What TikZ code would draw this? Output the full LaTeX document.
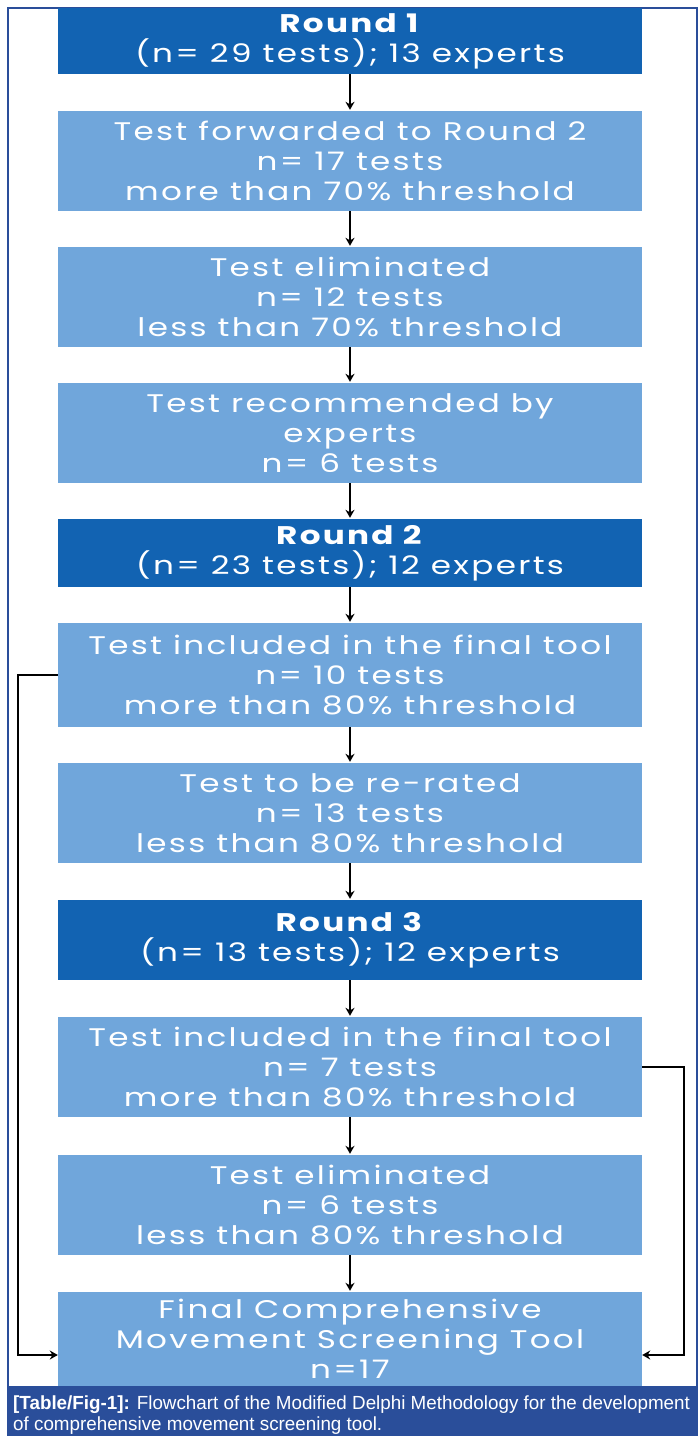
\documentclass[tikz,border=0pt]{standalone}
\usepackage{fontspec}
\setmainfont{Poppins}
\newfontfamily\boxfont[LetterSpace=9,FakeStretch=1.28]{Poppins}
\newfontfamily\capfont[FakeStretch=0.99]{Liberation Sans}
\usetikzlibrary{arrows.meta}

\definecolor{rounddark}{RGB}{18,99,178}
\definecolor{boxlight}{RGB}{112,166,219}
\definecolor{capblue}{RGB}{42,78,154}

\tikzset{
  flowbox/.style={fill=boxlight,text=white,minimum width=584pt,minimum height=#1,
    inner sep=0pt,align=center,font=\boxfont\fontsize{25.5}{30}\selectfont},
  roundbox/.style={flowbox=#1,fill=rounddark},
  flowarrow/.style={draw=black,line width=2.2pt,-{Stealth[length=8pt,width=9pt]},shorten >=1pt},
  sidearrow/.style={draw=black,line width=2.2pt,-{Stealth[length=8pt,width=9pt]}}
}

\begin{document}
\begin{tikzpicture}[x=1pt,y=1pt,yscale=-1,xscale=1]
\useasboundingbox (0,0) rectangle (700,1436);

%Frame and caption band
\draw [capblue,line width=1.2pt] (8,1436) -- (8,8) -- (697,8) -- (697,1436) ;
\fill [capblue] (8,1386) rectangle (697,1436) ;

%Round 1
\node [roundbox=66pt] (r1) at (350,41) {\textbf{Round 1}\\(n= 29 tests); 13 experts};
\node [flowbox=100pt] (fwd) at (350,161) {Test forwarded to Round 2\\n= 17 tests\\more than 70\% threshold};
\node [flowbox=100pt] (elim1) at (350,297) {Test eliminated\\n= 12 tests\\less than 70\% threshold};
\node [flowbox=100pt] (recom) at (350,433) {Test recommended by\\experts\\n= 6 tests};

%Round 2
\node [roundbox=68pt] (r2) at (350,553) {\textbf{Round 2}\\(n= 23 tests); 12 experts};
\node [flowbox=104pt] (incl1) at (350,675) {Test included in the final tool\\n= 10 tests\\more than 80\% threshold};
\node [flowbox=100pt] (rerate) at (350,813) {Test to be re-rated\\n= 13 tests\\less than 80\% threshold};

%Round 3
\node [roundbox=80pt] (r3) at (350,940) {\textbf{Round 3}\\(n= 13 tests); 12 experts};
\node [flowbox=100pt] (incl2) at (350,1067) {Test included in the final tool\\n= 7 tests\\more than 80\% threshold};
\node [flowbox=100pt] (elim2) at (350,1205) {Test eliminated\\n= 6 tests\\less than 80\% threshold};

%Final tool
\node [flowbox=94pt] (final) at (350,1339) {Final Comprehensive\\Movement Screening Tool\\n=17};

%Arrows
\draw [flowarrow] (r1) -- (fwd) ;
\draw [flowarrow] (fwd) -- (elim1) ;
\draw [flowarrow] (elim1) -- (recom) ;
\draw [flowarrow] (recom) -- (r2) ;
\draw [flowarrow] (r2) -- (incl1) ;
\draw [flowarrow] (incl1) -- (rerate) ;
\draw [flowarrow] (rerate) -- (r3) ;
\draw [flowarrow] (r3) -- (incl2) ;
\draw [flowarrow] (incl2) -- (elim2) ;
\draw [flowarrow] (elim2) -- (final) ;

%Side connectors
\draw [sidearrow] (incl1.west) -| (18,1355) -- (final.west |- 0,1355) ;
\draw [sidearrow] (incl2.east) -| (684,1355) -- (final.east |- 0,1355) ;

% Caption
\node [anchor=north west,inner sep=0pt,align=left,text=white,
  font=\capfont\fontsize{19}{20.5}\selectfont] (cap) at (13,1396)
  {\textbf{[Table/Fig-1]:} Flowchart of the Modified Delphi Methodology for the development\\of comprehensive movement screening tool.};

\end{tikzpicture}
\end{document}
